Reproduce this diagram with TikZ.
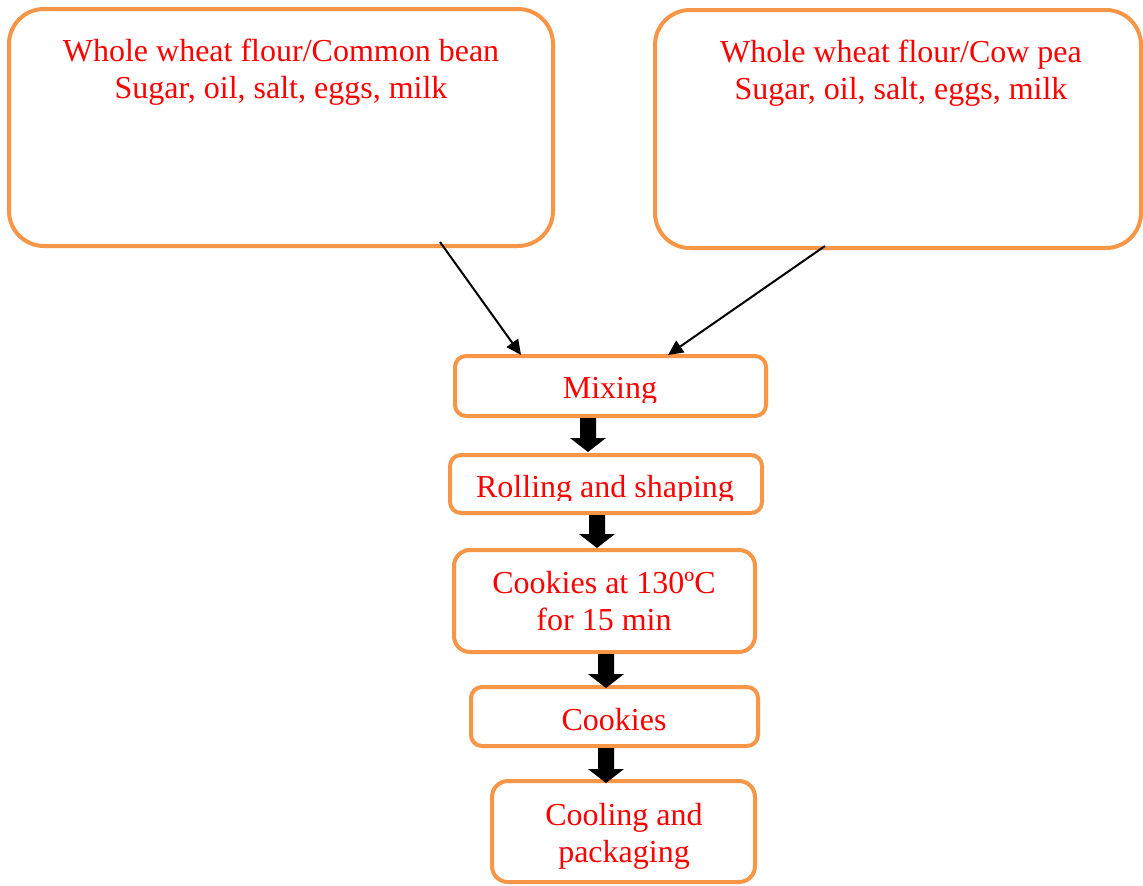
\documentclass[tikz,border=0pt]{standalone}
\usepackage{fontspec}
\setmainfont{Liberation Serif}
\usetikzlibrary{calc,arrows.meta}
\definecolor{boxorange}{HTML}{F79646}
\definecolor{txtred}{HTML}{FF0000}
\tikzset{
  roundbox/.style={draw=boxorange, line width=4pt, rounded corners=#1, fill=white,
    inner sep=0pt, outer sep=0pt},
  roundbox/.default=11pt,
  label text/.style={text=txtred, font=\fontsize{32}{37}\selectfont, align=center,
    anchor=base, inner sep=0pt},
  thin arrow/.style={line width=2pt, -{Triangle[length=15pt,width=14pt]}},
}
\newcommand{\blkarrow}[2]{%
  \fill ($(#1)+(-8,0)$) -- ($(#1)+(8,0)$) -- ($(#2)+(8,-14)$) -- ($(#2)+(18,-14)$)
    -- (#2) -- ($(#2)+(-18,-14)$) -- ($(#2)+(-8,-14)$) -- cycle;}
\begin{document}
\begin{tikzpicture}[x=1pt,y=-1pt]
\path[use as bounding box, fill=white] (0,0) rectangle (1143,886);

% boxes
\node[roundbox=35pt, minimum width=544pt, minimum height=237pt] (src1) at (281,127.5) {};
\node[roundbox=35pt, minimum width=486pt, minimum height=238pt] (src2) at (898,129) {};
\node[roundbox, minimum width=311pt, minimum height=60pt] (mix) at (610.5,386) {};
\node[roundbox, minimum width=312pt, minimum height=58pt] (roll) at (606,484) {};
\node[roundbox=16pt, minimum width=301pt, minimum height=102pt] (bake) at (604.5,601) {};
\node[roundbox, minimum width=287pt, minimum height=59pt] (cook) at (614.5,716.5) {};
\node[roundbox=16pt, minimum width=263pt, minimum height=101pt] (cool) at (623.5,831.5) {};

% texts (anchor=base is the baseline of the last line)
\node[label text] (t1) at (281,98) {Whole wheat flour/Common bean\\Sugar, oil, salt, eggs, milk};
\node[label text] (t2) at (901,99) {Whole wheat flour/Cow pea\\Sugar, oil, salt, eggs, milk};
\begin{scope}
  \clip (400,340) rectangle (800,402);
  \node[label text] (tmix) at (610,398) {Mixing};
\end{scope}
\begin{scope}
  \clip (400,440) rectangle (800,500);
  \node[label text] (troll) at (605,497) {Rolling and shaping};
\end{scope}
\node[label text] (tbake) at (604,630) {Cookies at 130ºC\\for 15 min};
\node[label text] (tcook) at (614,730) {Cookies};
\node[label text] (tcool) at (624,862) {Cooling and\\packaging};

% block arrows
\coordinate (a1s) at (588,418);  \coordinate (a1t) at (588,452);
\coordinate (a2s) at (597,515);  \coordinate (a2t) at (597,548);
\coordinate (a3s) at (606,654);  \coordinate (a3t) at (606,688);
\coordinate (a4s) at (606,748);  \coordinate (a4t) at (606,783);
\blkarrow{a1s}{a1t}
\blkarrow{a2s}{a2t}
\blkarrow{a3s}{a3t}
\blkarrow{a4s}{a4t}

% thin arrows
\coordinate (s1) at (440,242);
\coordinate (s2) at (825,246);
\coordinate (in1) at (521,355);
\coordinate (in2) at (668,355);
\draw[thin arrow] (s1) -- (in1);
\draw[thin arrow] (s2) -- (in2);
\end{tikzpicture}
\end{document}
